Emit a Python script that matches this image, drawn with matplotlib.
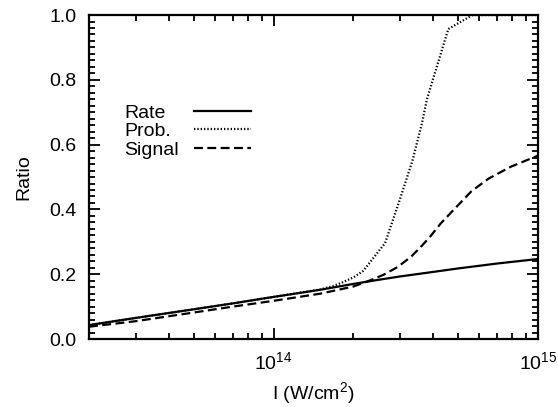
import matplotlib
matplotlib.use("Agg")
import matplotlib.pyplot as plt
from matplotlib.ticker import LogLocator, NullFormatter, MultipleLocator, FormatStrFormatter

plt.rcParams['font.family'] = ['Liberation Sans', 'DejaVu Sans']
plt.rcParams['mathtext.fontset'] = 'custom'
plt.rcParams['mathtext.rm'] = 'Liberation Sans'
plt.rcParams['mathtext.default'] = 'regular'

# intensity (W/cm^2) and the three ratio curves
rate_I = [2e13, 3e13, 5e13, 7e13, 1e14, 1.5e14, 2e14, 2.5e14, 3e14, 4e14, 5e14, 7e14, 1e15]
rate = [0.043, 0.065, 0.092, 0.110, 0.130, 0.152, 0.170, 0.183, 0.193, 0.207, 0.218, 0.233, 0.247]

prob_I = [2e13, 3e13, 5e13, 7e13, 1e14, 1.5e14, 1.68e14, 1.8e14, 2e14, 2.18e14, 2.64e14,
          3.0e14, 3.35e14, 3.65e14, 3.8e14, 4.58e14, 5.66e14, 1e15]
prob = [0.043, 0.065, 0.092, 0.110, 0.130, 0.153, 0.164, 0.173, 0.190, 0.210, 0.296,
        0.430, 0.550, 0.670, 0.740, 0.957, 1.0, 1.0]

signal_I = [2e13, 3e13, 5e13, 7e13, 1e14, 1.5e14, 2e14, 2.3e14, 2.6e14, 2.94e14, 3.3e14,
            3.6e14, 3.9e14, 4.3e14, 5e14, 5.6e14, 6.5e14, 7.9e14, 1e15]
signal = [0.038, 0.055, 0.082, 0.100, 0.118, 0.140, 0.162, 0.180, 0.198, 0.222, 0.253,
          0.284, 0.315, 0.358, 0.414, 0.456, 0.495, 0.532, 0.566]

labels = ['Rate', 'Prob.', 'Signal']
styles = ['-', (0, (0.6, 0.9)), (0, (4, 2))]

fig = plt.figure(figsize=(5.58, 4.07), dpi=100)
ax = fig.add_axes([0.1595, 0.167, 0.8045, 0.796])

ax.plot(rate_I, rate, color='black', lw=1.6, ls=styles[0])
ax.plot(prob_I, prob, color='black', lw=1.6, ls=styles[1])
ax.plot(signal_I, signal, color='black', lw=1.6, ls=styles[2])

ax.set_xscale('log')
ax.set_xlim(2e13, 1e15)
ax.set_ylim(0, 1.0)

ax.xaxis.set_major_locator(LogLocator(base=10))
ax.xaxis.set_minor_locator(LogLocator(base=10, subs=range(2, 10)))
ax.xaxis.set_minor_formatter(NullFormatter())
ax.yaxis.set_major_locator(MultipleLocator(0.2))
ax.yaxis.set_minor_locator(MultipleLocator(0.02))
ax.yaxis.set_major_formatter(FormatStrFormatter('%.1f'))

ax.tick_params(which='both', direction='in', top=True, right=True, width=1.3, labelsize=14)
ax.tick_params(which='major', length=8)
ax.tick_params(which='minor', length=4)
ax.tick_params(axis='y', pad=9)
ax.tick_params(axis='x', pad=9)
for s in ax.spines.values():
    s.set_linewidth(1.6)

ax.set_xlabel('I (W/cm$^2$)', fontsize=14, labelpad=5)
ax.set_ylabel('Ratio', fontsize=14, labelpad=12)

# hand-made legend: text left-aligned, line sample on the right
row_y = [0.704, 0.648, 0.590]
for lab, y, st in zip(labels, row_y, styles):
    ax.text(0.078, y - 0.021, lab, transform=ax.transAxes, fontsize=14,
            ha='left', va='baseline')
    ax.plot([0.234, 0.361], [y, y], transform=ax.transAxes, color='black',
            lw=1.6, ls=st)

fig.savefig('out.png', dpi=100)
